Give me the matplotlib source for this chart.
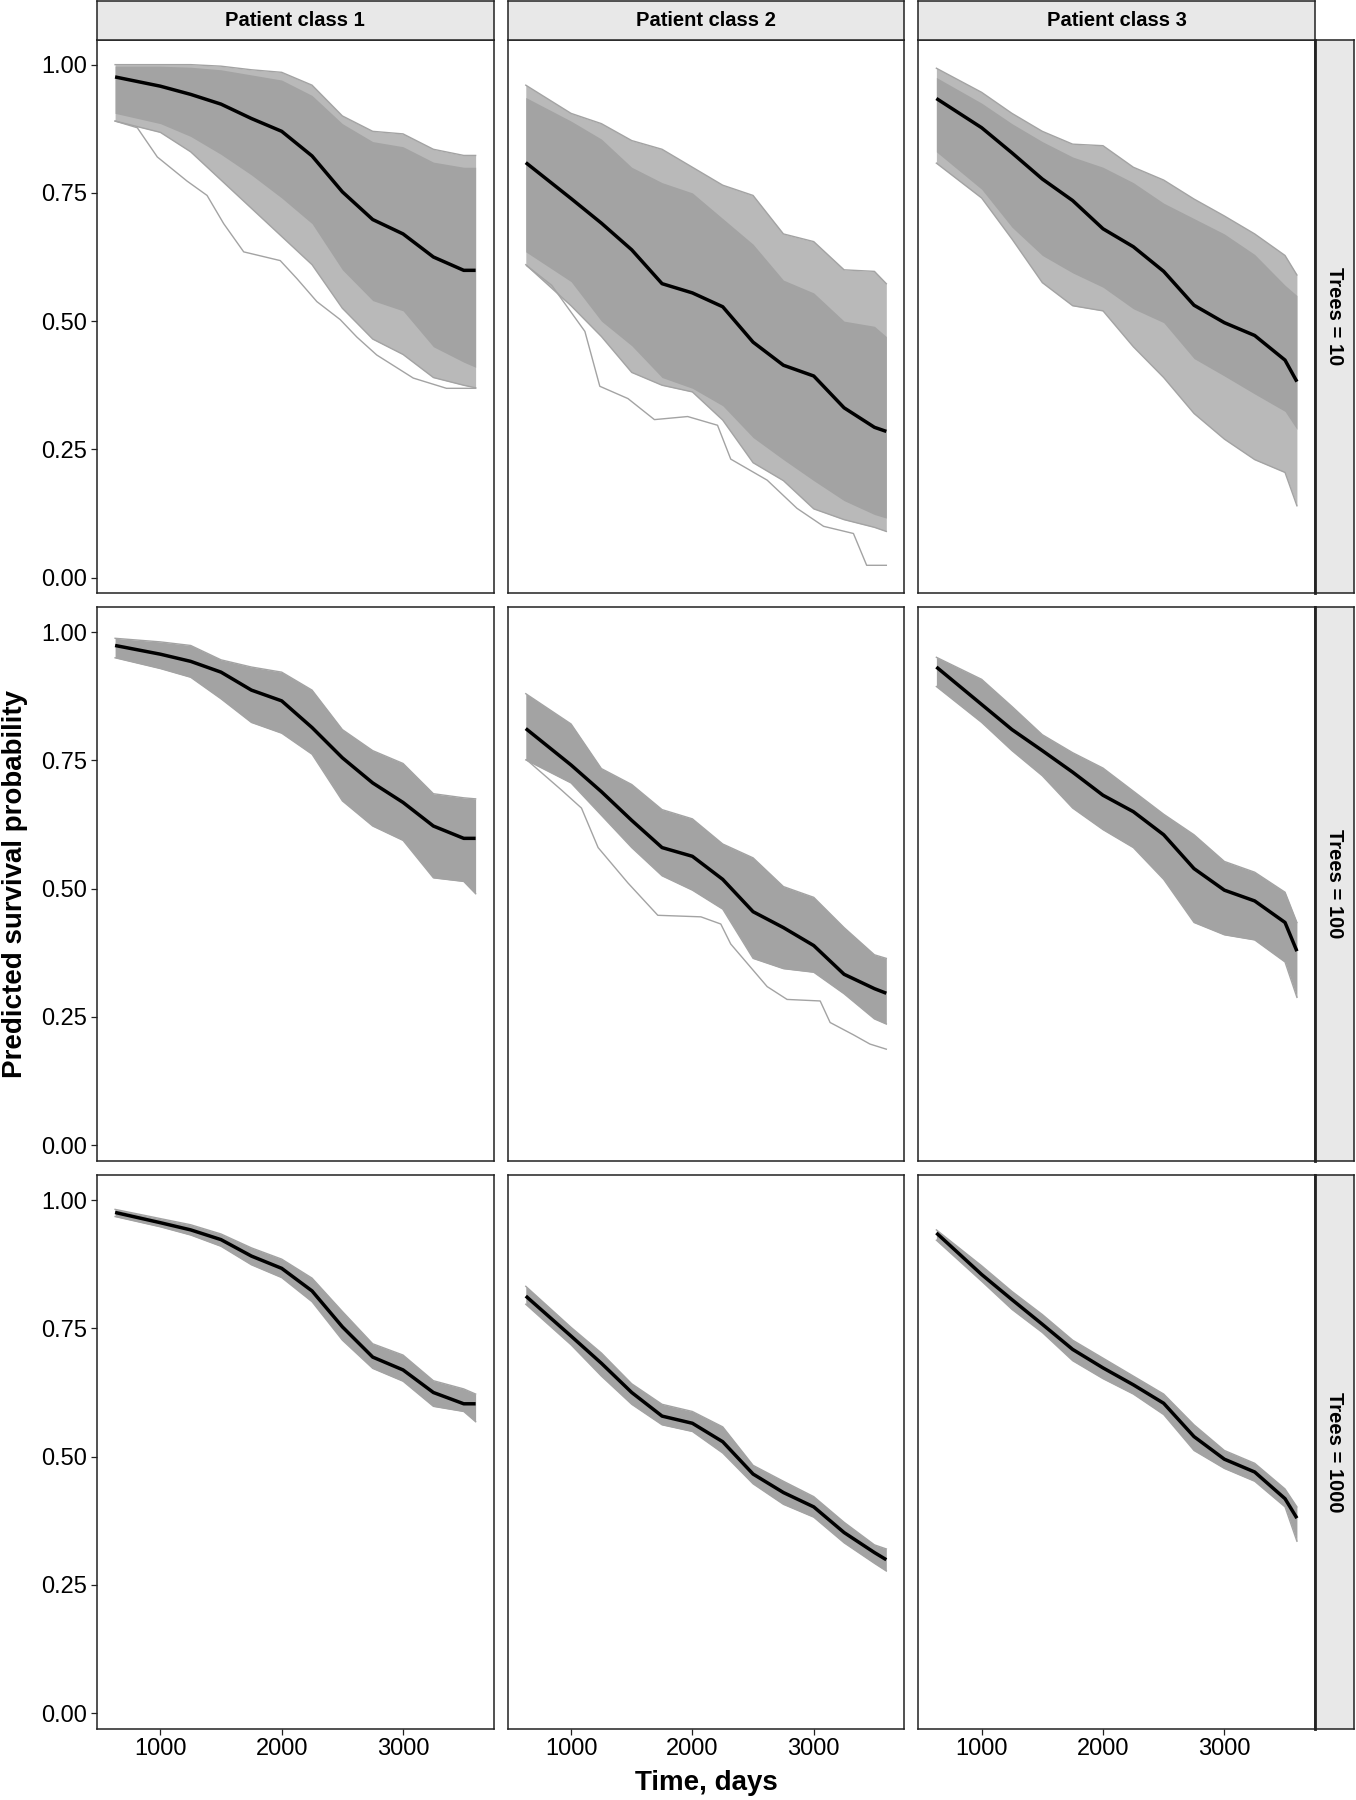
import matplotlib
matplotlib.use("Agg")
import matplotlib.pyplot as plt

plt.rcParams["font.family"] = ["Liberation Sans", "DejaVu Sans"]

days = [627, 1000, 1250, 1500, 1750, 2000, 2250, 2500, 2750, 3000, 3250, 3500, 3598]
class_labels = ["Patient class 1", "Patient class 2", "Patient class 3"]
tree_labels = ["Trees = 10", "Trees = 100", "Trees = 1000"]
x_ticks = [1000, 2000, 3000]
y_ticks = [0.0, 0.25, 0.5, 0.75, 1.0]

# ---- Trees = 10 ----
mean_10_1 = [0.976, 0.958, 0.942, 0.923, 0.895, 0.870, 0.822, 0.752, 0.698, 0.670, 0.625, 0.599, 0.599]
hi_10_1 = [1.0, 1.0, 1.0, 0.997, 0.99, 0.985, 0.96, 0.90, 0.87, 0.865, 0.835, 0.823, 0.823]
lo_10_1 = [0.89, 0.868, 0.83, 0.775, 0.72, 0.665, 0.61, 0.525, 0.465, 0.435, 0.39, 0.375, 0.37]
core_hi_10_1 = [0.997, 0.997, 0.995, 0.99, 0.98, 0.97, 0.94, 0.885, 0.85, 0.84, 0.81, 0.80, 0.80]
core_lo_10_1 = [0.905, 0.885, 0.86, 0.825, 0.785, 0.74, 0.69, 0.60, 0.54, 0.52, 0.45, 0.42, 0.41]

mean_10_2 = [0.809, 0.739, 0.691, 0.639, 0.573, 0.555, 0.528, 0.459, 0.414, 0.393, 0.331, 0.293, 0.285]
hi_10_2 = [0.96, 0.905, 0.885, 0.852, 0.835, 0.80, 0.765, 0.745, 0.67, 0.655, 0.60, 0.597, 0.573]
lo_10_2 = [0.61, 0.53, 0.47, 0.40, 0.375, 0.362, 0.307, 0.224, 0.189, 0.134, 0.113, 0.098, 0.09]
core_hi_10_2 = [0.936, 0.89, 0.855, 0.80, 0.77, 0.75, 0.70, 0.65, 0.58, 0.555, 0.50, 0.49, 0.47]
core_lo_10_2 = [0.635, 0.577, 0.50, 0.452, 0.39, 0.369, 0.335, 0.273, 0.23, 0.189, 0.15, 0.123, 0.116]

mean_10_3 = [0.934, 0.877, 0.828, 0.777, 0.735, 0.680, 0.645, 0.597, 0.531, 0.497, 0.472, 0.424, 0.382]
hi_10_3 = [0.993, 0.946, 0.905, 0.87, 0.845, 0.842, 0.80, 0.775, 0.738, 0.705, 0.67, 0.628, 0.59]
lo_10_3 = [0.808, 0.74, 0.66, 0.575, 0.53, 0.52, 0.45, 0.39, 0.32, 0.27, 0.23, 0.205, 0.14]
core_hi_10_3 = [0.975, 0.925, 0.885, 0.85, 0.82, 0.80, 0.77, 0.73, 0.70, 0.67, 0.63, 0.57, 0.55]
core_lo_10_3 = [0.83, 0.757, 0.683, 0.628, 0.594, 0.566, 0.524, 0.497, 0.427, 0.393, 0.358, 0.324, 0.289]

# ---- Trees = 100 ----
mean_100_1 = [0.974, 0.957, 0.943, 0.922, 0.887, 0.866, 0.814, 0.755, 0.706, 0.668, 0.622, 0.598, 0.598]
hi_100_1 = [0.988, 0.981, 0.974, 0.946, 0.932, 0.922, 0.887, 0.81, 0.769, 0.744, 0.685, 0.677, 0.675]
lo_100_1 = [0.95, 0.929, 0.912, 0.87, 0.824, 0.803, 0.762, 0.671, 0.622, 0.594, 0.521, 0.514, 0.49]

mean_100_2 = [0.812, 0.741, 0.689, 0.633, 0.58, 0.563, 0.518, 0.455, 0.424, 0.389, 0.333, 0.305, 0.296]
hi_100_2 = [0.88, 0.821, 0.734, 0.703, 0.654, 0.636, 0.587, 0.56, 0.504, 0.483, 0.424, 0.371, 0.364]
lo_100_2 = [0.751, 0.706, 0.643, 0.58, 0.525, 0.497, 0.46, 0.364, 0.344, 0.337, 0.295, 0.246, 0.236]

mean_100_3 = [0.932, 0.859, 0.81, 0.769, 0.727, 0.682, 0.65, 0.605, 0.539, 0.497, 0.476, 0.434, 0.378]
hi_100_3 = [0.951, 0.908, 0.855, 0.80, 0.765, 0.735, 0.69, 0.645, 0.605, 0.553, 0.532, 0.493, 0.434]
lo_100_3 = [0.894, 0.824, 0.769, 0.72, 0.657, 0.615, 0.58, 0.518, 0.434, 0.41, 0.40, 0.357, 0.288]

# ---- Trees = 1000 ----
mean_1000_1 = [0.976, 0.956, 0.942, 0.923, 0.891, 0.867, 0.823, 0.753, 0.694, 0.669, 0.625, 0.603, 0.603]
hi_1000_1 = [0.982, 0.964, 0.952, 0.934, 0.907, 0.885, 0.848, 0.783, 0.72, 0.698, 0.648, 0.632, 0.622]
lo_1000_1 = [0.968, 0.948, 0.932, 0.91, 0.874, 0.849, 0.802, 0.727, 0.672, 0.647, 0.598, 0.588, 0.568]

mean_1000_2 = [0.813, 0.735, 0.682, 0.625, 0.579, 0.565, 0.529, 0.466, 0.43, 0.402, 0.352, 0.313, 0.299]
hi_1000_2 = [0.832, 0.752, 0.702, 0.642, 0.602, 0.588, 0.558, 0.483, 0.452, 0.422, 0.372, 0.328, 0.32]
lo_1000_2 = [0.797, 0.718, 0.657, 0.602, 0.562, 0.549, 0.507, 0.447, 0.407, 0.382, 0.332, 0.292, 0.277]

mean_1000_3 = [0.936, 0.855, 0.806, 0.758, 0.709, 0.673, 0.64, 0.604, 0.539, 0.495, 0.47, 0.418, 0.38]
hi_1000_3 = [0.942, 0.872, 0.822, 0.777, 0.727, 0.692, 0.657, 0.622, 0.562, 0.512, 0.487, 0.437, 0.402]
lo_1000_3 = [0.922, 0.842, 0.787, 0.742, 0.687, 0.652, 0.622, 0.582, 0.512, 0.477, 0.452, 0.402, 0.335]

# single outlying forest curves that stand apart from the bundle
out_10_1_days = [627, 810, 975, 1220, 1385, 1522, 1687, 1988, 2125, 2290, 2482, 2619, 2783, 3084, 3358, 3598]
out_10_1 = [0.89, 0.877, 0.82, 0.773, 0.745, 0.69, 0.635, 0.618, 0.583, 0.538, 0.503, 0.469, 0.434, 0.389, 0.369, 0.369]
out_10_2_days = [635, 840, 1114, 1237, 1469, 1687, 1961, 2207, 2316, 2616, 2862, 3081, 3327, 3436, 3598]
out_10_2 = [0.608, 0.57, 0.48, 0.373, 0.349, 0.308, 0.314, 0.297, 0.231, 0.19, 0.135, 0.10, 0.086, 0.024, 0.024]
out_100_2_days = [635, 922, 1086, 1223, 1469, 1715, 2070, 2234, 2316, 2616, 2780, 3053, 3135, 3327, 3463, 3598]
out_100_2 = [0.751, 0.692, 0.657, 0.58, 0.511, 0.448, 0.445, 0.431, 0.392, 0.309, 0.284, 0.281, 0.239, 0.215, 0.197, 0.187]

means = [[mean_10_1, mean_10_2, mean_10_3],
         [mean_100_1, mean_100_2, mean_100_3],
         [mean_1000_1, mean_1000_2, mean_1000_3]]
his = [[hi_10_1, hi_10_2, hi_10_3],
       [hi_100_1, hi_100_2, hi_100_3],
       [hi_1000_1, hi_1000_2, hi_1000_3]]
los = [[lo_10_1, lo_10_2, lo_10_3],
       [lo_100_1, lo_100_2, lo_100_3],
       [lo_1000_1, lo_1000_2, lo_1000_3]]
cores = {(0, 0): (core_lo_10_1, core_hi_10_1),
         (0, 1): (core_lo_10_2, core_hi_10_2),
         (0, 2): (core_lo_10_3, core_hi_10_3)}
outliers = {(0, 0): [(out_10_1_days, out_10_1)],
            (0, 1): [(out_10_2_days, out_10_2)],
            (1, 1): [(out_100_2_days, out_100_2)]}

GRAY = "#a3a3a3"
LIGHT = "#b9b9b9"
W, H = 1356, 1800


def box(x, y, w, h):
    return [x / W, 1 - (y + h) / H, w / W, h / H]


fig = plt.figure(figsize=(W / 100, H / 100), dpi=100)

col_x = [97, 507.7, 918.3]
row_y = [39.5, 607, 1175]
pw, ph = 396.7, 553.5

for r in range(3):
    for c in range(3):
        ax = fig.add_axes(box(col_x[c], row_y[r], pw, ph))
        if (r, c) in cores:
            ax.fill_between(days, los[r][c], his[r][c], color=LIGHT, lw=0)
            clo, chi = cores[(r, c)]
            ax.fill_between(days, clo, chi, color=GRAY, lw=0)
        else:
            ax.fill_between(days, los[r][c], his[r][c], color=GRAY, lw=0)
        ax.plot(days, his[r][c], color=GRAY, lw=1.0)
        ax.plot(days, los[r][c], color=GRAY, lw=1.0)
        for od, ov in outliers.get((r, c), []):
            ax.plot(od, ov, color=GRAY, lw=1.0)
        ax.plot(days, means[r][c], color="black", lw=2.5, solid_capstyle="butt")

        ax.set_xlim(478, 3747)
        ax.set_ylim(-0.030, 1.049)
        for s in ax.spines.values():
            s.set_color("#222222")
            s.set_linewidth(1.1)
        ax.tick_params(direction="out", length=4, width=0.9, color="#222222",
                       labelsize=17, labelcolor="black", pad=3)
        if c == 0:
            ax.set_yticks(y_ticks)
            ax.set_yticklabels(["%.2f" % v for v in y_ticks])
        else:
            ax.set_yticks([])
        if r == 2:
            ax.set_xticks(x_ticks)
            ax.set_xticklabels([str(v) for v in x_ticks])
        else:
            ax.set_xticks([])

# top strips
for c in range(3):
    sa = fig.add_axes(box(col_x[c], 1, pw, row_y[0] - 1))
    sa.set_facecolor("#e8e8e8")
    sa.set_xticks([])
    sa.set_yticks([])
    for s in sa.spines.values():
        s.set_color("#222222")
        s.set_linewidth(1.1)
    sa.text(0.5, 0.5, class_labels[c], ha="center", va="center",
            fontsize=14.5, fontweight="bold", transform=sa.transAxes)

# right strips
for r in range(3):
    sa = fig.add_axes(box(col_x[2] + pw, row_y[r], 1354 - col_x[2] - pw, ph))
    sa.set_facecolor("#e8e8e8")
    sa.set_xticks([])
    sa.set_yticks([])
    for s in sa.spines.values():
        s.set_color("#222222")
        s.set_linewidth(1.1)
    sa.spines["left"].set_linewidth(2.0)
    sa.text(0.5, 0.5, tree_labels[r], ha="center", va="center", rotation=-90,
            fontsize=14.5, fontweight="bold", transform=sa.transAxes)

fig.text((col_x[0] + col_x[2] + pw) / 2 / W, 1 - 1783 / H, "Time, days",
         ha="center", va="center", fontsize=20, fontweight="bold")
fig.text(15 / W, 1 - (row_y[0] + row_y[2] + ph) / 2 / H, "Predicted survival probability",
         ha="center", va="center", rotation=90, fontsize=20, fontweight="bold")

fig.savefig("out.png", dpi=100)
